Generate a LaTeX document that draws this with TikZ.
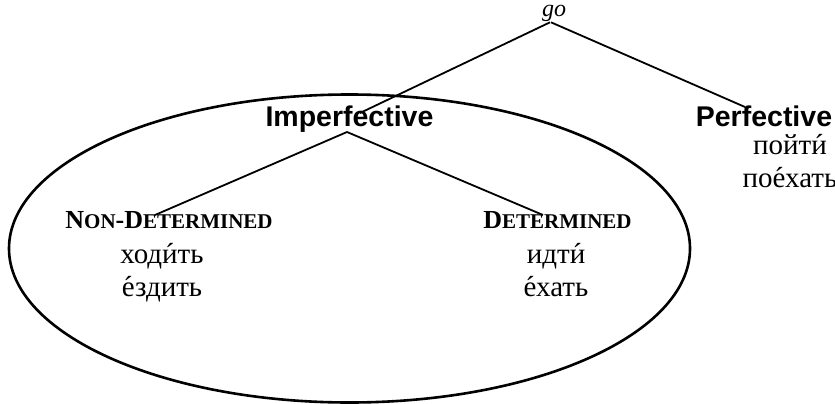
\documentclass[tikz,border=0pt]{standalone}
\usepackage{fontspec}
\setmainfont{Liberation Serif}
\newfontfamily\arialfont{Liberation Sans}
\usetikzlibrary{arrows,shapes.geometric}

% big capital followed by smaller capitals
\newcommand{\capsm}[2]{{\fontsize{26}{30}\selectfont #1}{\fontsize{21}{24}\selectfont #2}}
% stress mark
\newcommand{\strs}[1]{{\accent"00B4 #1}}

\begin{document}
\begin{tikzpicture}[x=1pt,y=-1pt]
\tikzstyle{aspect} = [font=\arialfont\bfseries\fontsize{28.5}{34}\selectfont,
inner sep=0pt, anchor=base]
\tikzstyle{kind} = [font=\bfseries, inner sep=0pt, anchor=base]
\tikzstyle{verbs} = [font=\fontsize{29}{33}\selectfont, align=center,
inner sep=0pt, anchor=base]
\tikzstyle{branch} = [draw, line width=1.8pt]
\useasboundingbox (0,0) rectangle (835,404);

\draw[line width=2.6pt] (349.5,248.5) ellipse [x radius=340.5, y radius=154];

% top
\node [inner sep=0pt, anchor=base, font=\fontsize{24}{28}\selectfont\itshape] (go) at (554,17) {go};
% row 2
\node [aspect] (imperf) at (349.5,126) {Imperfective};
\node [aspect] (perf) at (764,126) {Perfective};
\node [verbs] (perfv) at (790,187) {пойт\strs{и}\\[0pt]по\strs{е}хать};
% row 3
\node [kind] (nondet) at (169,228) {\capsm{N}{ON}\capsm{-D}{ETERMINED}};
\node [kind] (det) at (557.5,228) {\capsm{D}{ETERMINED}};
\node [verbs] (nondetv) at (162,296) {ход\strs{и}ть\\[0pt]\strs{е}здить};
\node [verbs] (detv) at (556,296) {идт\strs{и}\\[0pt]\strs{е}хать};

\tikzstyle{every path}=[branch]
\path ([xshift=-4pt]go.south) -- ([shift={(10.5,-13)}]imperf.base);
\path ([xshift=-3pt]go.south) -- ([shift={(-19,-19)}]perf.base);
\path ([shift={(-2.5,6)}]imperf.base) -- ([shift={(-14,-13)}]nondet.base);
\path ([shift={(-2.5,6)}]imperf.base) -- ([shift={(-14.5,-13)}]det.base);

\end{tikzpicture}
\end{document}
